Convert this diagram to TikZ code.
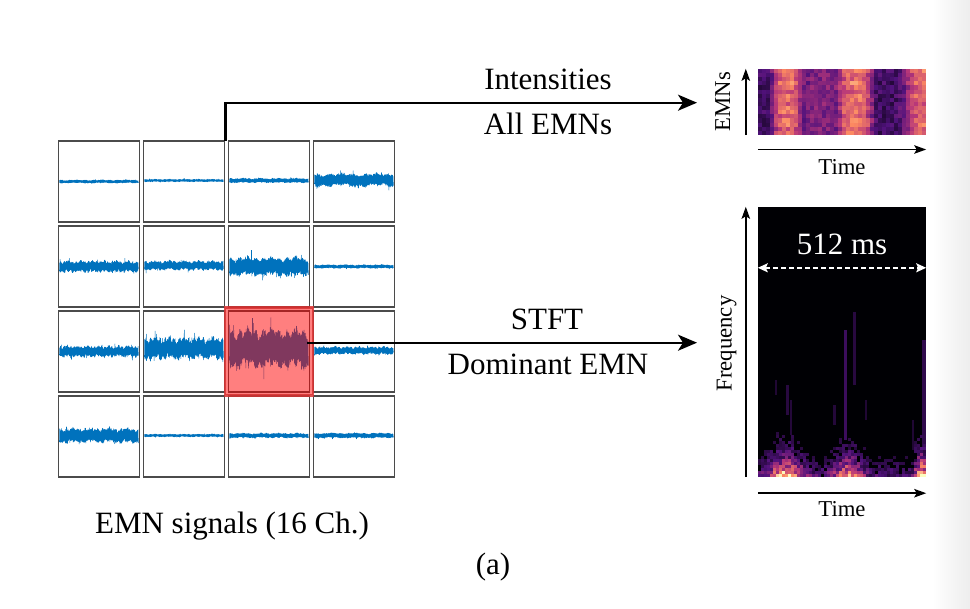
\documentclass[tikz,border=0pt]{standalone}
\usepackage{fontspec}
\setmainfont{Liberation Serif}
\usetikzlibrary{arrows.meta}
\definecolor{mag0}{RGB}{0,0,4}
\definecolor{mag1}{RGB}{81,18,124}
\definecolor{mag2}{RGB}{183,55,121}
\definecolor{mag3}{RGB}{252,137,97}
\definecolor{mag4}{RGB}{252,253,191}
\definecolor{sigblue}{RGB}{0,114,189}
\definecolor{cellgray}{RGB}{75,75,75}
\definecolor{hlred}{RGB}{255,0,0}
\definecolor{hlborder}{RGB}{215,50,50}
\newcommand\magmacol[1]{%
  \pgfmathsetmacro\mv{max(0,min(0.999,#1))}%
  \pgfmathtruncatemacro\mseg{floor(\mv*4)}%
  \pgfmathtruncatemacro\mt{round((\mv*4-\mseg)*100)}%
  \pgfmathtruncatemacro\mnext{\mseg+1}%
  \colorlet{mc}{mag\mnext!\mt!mag\mseg}%
}
\begin{document}
\begin{tikzpicture}[x=1pt,y=-1pt,
  declare function={
    gb(\x,\c,\w)=exp(-min(10,((\x-\c)/\w)*((\x-\c)/\w)));
    fb(\x,\c,\w)=exp(-min(10,((\x-\c)/\w)*((\x-\c)/\w)*((\x-\c)/\w)*((\x-\c)/\w)));
  },
  big/.style={font=\fontsize{31}{36}\selectfont, inner sep=0pt, anchor=base},
  small/.style={font=\fontsize{22.7}{26}\selectfont, inner sep=0pt, anchor=base},
  cell/.style={draw=cellgray, line width=1.3pt, minimum width=81pt, minimum height=81pt, inner sep=0pt},
  sig/.style={draw=sigblue, line width=0.55pt, line join=round},
  hl/.style={draw=hlborder, line width=2.2pt, fill=hlred, fill opacity=0.5, draw opacity=0.85, minimum width=88pt, minimum height=88pt, inner sep=0pt},
  imgbox/.style={inner sep=0pt, minimum width=168pt},
  arr/.style={line width=2.3pt, -{Stealth[length=19pt,width=16pt,inset=5pt]}},
  ax/.style={line width=1.5pt, -{Stealth[length=12pt,width=8.5pt,inset=2.5pt]}},
  dim/.style={white, line width=1.6pt, dash pattern=on 5pt off 3pt, {Stealth[length=10pt,width=9pt,inset=2pt]}-{Stealth[length=10pt,width=9pt,inset=2pt]}}
]
\useasboundingbox (0,0) rectangle (970,609);
\fill[white] (0,0) rectangle (970,609);
\shade[left color=white, right color=black!7] (932,0) rectangle (970,609);

% ---------- grid of 16 channels ----------
\pgfmathsetseed{7}
\foreach \ri/\ci/\am/\dy/\wf in {1/1/1.6/0/3, 1/2/1.3/-1/5, 1/3/2.3/-1/4, 1/4/7/-1.5/2,
  2/1/6/0/6, 2/2/5/-1/5, 2/3/10/0/3, 2/4/1.8/0/4,
  3/1/6/0/7, 3/2/12/-3/5, 3/3/21/-3/3, 3/4/4/-1/6,
  4/1/8/-1/4, 4/2/1.4/-1/5, 4/3/2.4/-1/4, 4/4/2.6/-1/3}{
  \pgfmathsetmacro\xa{59+85*(\ci-1)}
  \pgfmathsetmacro\yc{181.5+85*(\ri-1)+\dy}
  \node[cell] (c\ri\ci) at ({\xa+40},{181.5+85*(\ri-1)}) {};
  \draw[sig] plot[domain=0:394, samples=395, variable=\t]
     ({\xa+0.5+\t*0.2},{\yc+0.12*\am*sin(\t*\wf)+\am*(1-2*mod(round(\t),2))*(0.6+0.4*rnd)*(0.85+0.15*sin(\t*\wf*3))*(1+0.5*(rnd>0.97))});
}
\draw[sig, line width=1pt] (251.5,268) -- (251.5,250);
\draw[sig, line width=1pt] (252,350) -- (252,318);

% highlight of dominant EMN
\node[hl] (hl) at (269,351.5) {};

% ---------- arrows and labels ----------
\coordinate (tstart) at (225.5,141);
\coordinate (tend) at (697,102.7);
\draw[arr] (tstart) |- (tend);
\node[big] (lint) at (548,90) {Intensities};
\node[big] (lall) at (548,135) {All EMNs};

\coordinate (mstart) at (307,342.7);
\coordinate (mend) at (697,342.7);
\draw[arr] (mstart) -- (mend);
\node[big] (lstft) at (547,330) {STFT};
\node[big] (ldom) at (548,375) {Dominant EMN};

\node[big] (lsig) at (232,533) {EMN signals (16 Ch.)};
\node[big] (la) at (493,575) {(a)};

% ---------- intensity heatmap ----------
\node[imgbox, minimum height=66pt] (hm) at (842,102) {};
\pgfmathsetseed{11}
\foreach \i in {0,...,41}{
  \foreach \j in {0,...,15}{
    \pgfmathsetmacro\xx{\i*4+2}
    \pgfmathsetmacro\bb{fb(\xx,29,14)+fb(\xx,97,17)+fb(\xx,174,26)}
    \pgfmathsetmacro\vv{0.2+0.47*\bb+0.17*fb(\xx,62,16)+0.06*cos(\j*115)*\bb+0.18*(rnd-0.5)}
    \magmacol{\vv}
    \fill[mc] ({758+\i*4},{69+\j*4.125}) rectangle ++(4.1,4.2);
  }
}
\draw[ax] ([xshift=-12pt]hm.south west) -- ([xshift=-12pt]hm.north west);
\draw[ax] ([yshift=-14.3pt]hm.south west) -- ([yshift=-14.3pt]hm.south east);
\node[small, rotate=90] (lemn) at (730,101.7) {EMNs};
\node[small] (lt1) at (842,175) {Time};

% ---------- spectrogram ----------
\node[imgbox, minimum height=270pt, fill=mag0] (sp) at (842,342) {};
\fill[mag1, opacity=0.75] (843.5,330) rectangle (846.5,440);
\fill[mag1, opacity=0.5] (853,312) rectangle (855.5,385);
\fill[mag1, opacity=0.6] (922,340) rectangle (926,470);
\fill[mag1, opacity=0.5] (786,385) rectangle (788.5,415);
\fill[mag1, opacity=0.45] (790,400) rectangle (792,435);
\fill[mag1, opacity=0.4] (775,380) rectangle (777,395);
\fill[mag1, opacity=0.4] (912,420) rectangle (914,450);
\fill[mag1, opacity=0.45] (833,405) rectangle (836,425);
\fill[mag1, opacity=0.4] (865,400) rectangle (867,420);
\pgfmathsetseed{5}
\foreach \i in {0,...,55}{
  \foreach \j in {0,...,19}{
    \pgfmathsetmacro\xx{\i*3+1.5}
    \pgfmathsetmacro\dd{\j*3+1.5}
    \pgfmathsetmacro\pk{0.2+0.75*gb(\xx,28,16)+0.6*gb(\xx,90,14)+0.8*gb(\xx,164,7)}
    \pgfmathsetmacro\vv{\pk*exp(-\dd/16)+0.5*(rnd-0.4)*(0.3+\pk)*exp(-\dd/30)}
    \ifdim\vv pt>0.12pt
      \magmacol{\vv}
      \fill[mc] ({758+\i*3},{477-\j*3}) rectangle ++(3.1,-3.1);
    \fi
  }
}
\draw[dim] ([yshift=-61pt]sp.north west) -- ([yshift=-61pt]sp.north east);
\node[big, text=white] (l512) at (842,255) {512 ms};
\draw[ax] ([xshift=-12pt]sp.south west) -- ([xshift=-12pt]sp.north west);
\draw[ax] ([yshift=-16pt]sp.south west) -- ([yshift=-16pt]sp.south east);
\node[small, rotate=90] (lfreq) at (731.5,343.5) {Frequency};
\node[small] (lt2) at (842,517) {Time};
\end{tikzpicture}
\end{document}
